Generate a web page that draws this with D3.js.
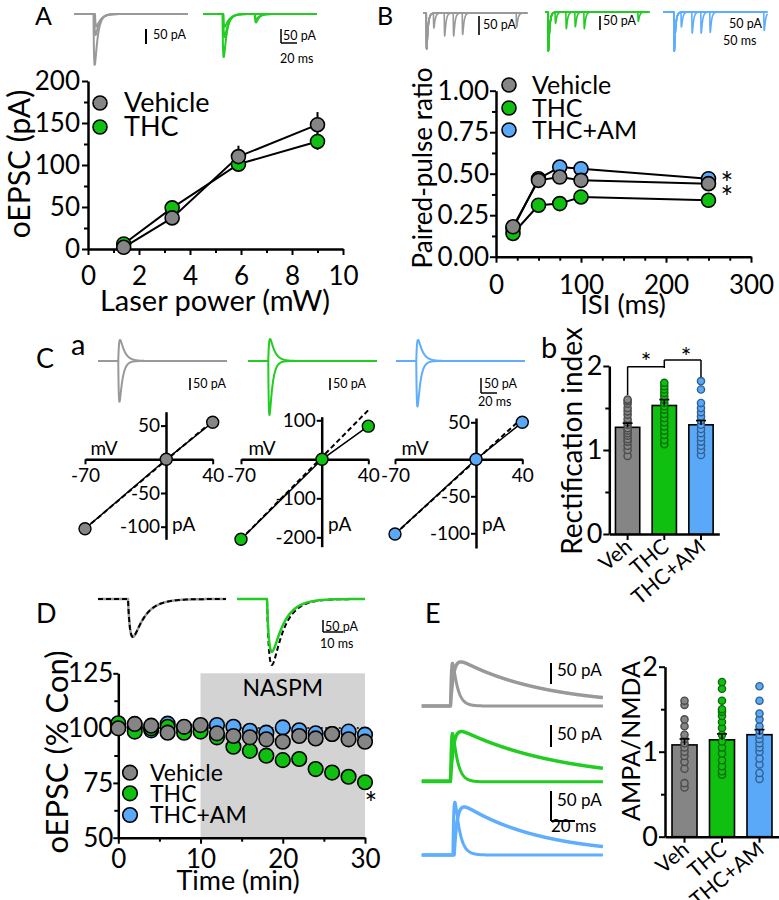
<!DOCTYPE html>
<html><head><meta charset="utf-8">
<script src="https://cdn.jsdelivr.net/npm/d3@7"></script>
<style>body{margin:0;background:#fff}svg{display:block}</style>
</head><body><svg id="c" width="779" height="900"></svg>
<script>
// ================= DATA =================
const groups = ["Vehicle", "THC", "THC+AM"];
const groupShort = ["Veh", "THC", "THC+AM"];

// Panel A: oEPSC vs laser power
const laserPower = [1.4, 3.3, 5.9, 9.0];
const laserVeh = [2, 37, 110, 148];
const laserVehErr = [2, 4, 13, 15];
const laserTHC = [6, 49, 101, 128];
const laserTHCErr = [2, 4, 6, 10];
const laserXTicks = [0, 2, 4, 6, 8, 10];
const laserYTicks = [0, 50, 100, 150, 200];

// Panel B: paired-pulse ratio
const isi = [20, 50, 75, 100, 250];
const pprVeh = [0.18, 0.46, 0.48, 0.46, 0.44];
const pprTHC = [0.14, 0.31, 0.32, 0.36, 0.34];
const pprAM = [0.17, 0.47, 0.54, 0.53, 0.47];
const isiTicks = [0, 100, 200, 300];
const pprTicks = [0, 0.25, 0.5, 0.75, 1.0];

// Panel Ca: I-V relations (mV, pA)
const ivMV = [-70, 0, 40];
const ivVeh = [-103, 0, 55];
const ivTHC = [-205, 0, 85];
const ivAM = [-101, 0, 50];
const ivLinearAt40 = [57, 126, 56];
const ivYTicksVeh = [50, -50, -100];
const ivYTicksTHC = [100, -100, -200];
const ivYTicksAM = [50, -50, -100];

// Panel Cb: rectification index
const rectMean = [1.27, 1.53, 1.30];
const rectErr = [0.05, 0.07, 0.05];
const rectVeh = [0.93, 1.0, 1.05, 1.1, 1.13, 1.17, 1.2, 1.23, 1.26, 1.3, 1.33, 1.37, 1.42, 1.46, 1.5, 1.55, 1.58, 1.6];
const rectTHC = [1.07, 1.12, 1.18, 1.23, 1.28, 1.33, 1.38, 1.43, 1.48, 1.52, 1.56, 1.6, 1.64, 1.68, 1.72, 1.76, 1.8];
const rectAM = [0.94, 1.0, 1.05, 1.1, 1.15, 1.2, 1.25, 1.3, 1.35, 1.4, 1.45, 1.5, 1.56, 1.72, 1.82];
const ratioTicks = [0, 1, 2];

// Panel D: NASPM time course (% control)
const timeMin = [0, 2, 4, 6, 8, 10, 12, 14, 16, 18, 20, 22, 24, 26, 28, 30];
const naspmVeh = [99.9, 101.9, 101.1, 97.9, 100.6, 101.4, 97.6, 96.4, 95.8, 94.9, 93.8, 96.4, 95.3, 97.3, 94.9, 93.8];
const naspmTHC = [102.2, 98.4, 99.9, 100.6, 97.9, 98.4, 95.8, 91.5, 89.6, 87.4, 85.4, 85.9, 81.3, 79.7, 77.8, 75.3];
const naspmAM = [100.5, 100.5, 99.0, 102.0, 100.3, 100.8, 101.4, 100.6, 98.8, 97.9, 100.3, 99.0, 97.6, 97.3, 98.4, 97.0];
const naspmWindow = [10, 30];
const timeTicks = [0, 10, 20, 30];
const naspmTicks = [50, 75, 100, 125];

// Panel E: AMPA/NMDA ratio
const anMean = [1.08, 1.14, 1.20];
const anErr = [0.07, 0.07, 0.06];
const anVeh = [0.58, 0.63, 0.8, 0.88, 0.95, 1.0, 1.05, 1.1, 1.15, 1.2, 1.3, 1.38, 1.55, 1.6];
const anTHC = [0.73, 0.77, 0.83, 0.9, 0.98, 1.05, 1.12, 1.2, 1.28, 1.35, 1.42, 1.47, 1.5, 1.6, 1.74, 1.82];
const anAM = [0.68, 0.75, 0.85, 0.92, 1.0, 1.05, 1.1, 1.15, 1.2, 1.25, 1.3, 1.38, 1.45, 1.6, 1.77];

// Example traces: sweeps -> events [onset ms, amplitude pA]
const trA_Veh = [[[26, -182]], [[27, -75]], [[28, -45]]];
const trA_THC = [[[26, -154], [69, -30]], [[27, -82], [69, -18]], [[27, -46]]];
const trB_Veh = [[[9, -97], [29, -40]], [[9, -97], [59, -62]], [[9, -97], [84, -62]], [[9, -97], [109, -58]], [[9, -97], [259, -38]]];
const trB_THC = [[[8, -105], [28, -30]], [[8, -105], [58, -45]], [[8, -105], [83, -40]], [[8, -105], [108, -45]], [[8, -105], [258, -25]]];
const trB_AM = [[[30, -105], [50, -40]], [[30, -105], [80, -57]], [[30, -105], [105, -57]], [[30, -105], [130, -55]], [[30, -105], [280, -50]]];
const trC_Veh = [[[27, 88]], [[27, -170]]];
const trC_THC = [[[27, 92]], [[27, -225]]];
const trC_AM = [[[27, 88]], [[27, -190]]];
const trD_Veh = [[[15, -158]], [[15, -158]]];   // before, during NASPM
const trD_THC = [[[15, -220]], [[15, -275]]];
const trE_Veh = [[[24, 102]], [[24, 105]]];     // AMPA (-70 mV), NMDA (+40 mV)
const trE_THC = [[[24, 113]], [[24, 115]]];
const trE_AM = [[[26, 88]], [[27, 80]]];

// ================= STYLE =================
const FONT = "Lato, 'Open Sans', 'DejaVu Sans', sans-serif";
const COL = {"Vehicle": "#858585", "THC": "#10c010", "THC+AM": "#5aa8f8"};
const TRACE = {"Vehicle": "#999999", "THC": "#22cc22", "THC+AM": "#5fadff"};
const hyphen = d => String(d);

const svg = d3.select("#c");
svg.append("rect").attr("width", 779).attr("height", 900).attr("fill", "#fff");

function text(x, y, s, size, opts = {}) {
  const t = svg.append("text").attr("x", x).attr("y", y).text(s)
    .attr("font-family", FONT).attr("font-size", size).attr("fill", "#000")
    .attr("text-anchor", opts.anchor || "start");
  if (opts.rotate !== undefined) t.attr("transform", `rotate(${opts.rotate},${x},${y})`);
  return t;
}
function styleAxis(g, fs) {
  g.select(".domain").attr("stroke", "#000").attr("stroke-width", 2.5);
  g.selectAll(".tick line").attr("stroke", "#000").attr("stroke-width", 2);
  g.selectAll(".tick text").attr("font-family", FONT).attr("font-size", fs).attr("fill", "#000");
  return g;
}
function axisG(gen, tx, ty, fs) {
  return styleAxis(svg.append("g").attr("transform", `translate(${tx},${ty})`).call(gen), fs);
}
function minorG(gen, tx, ty) {
  const g = svg.append("g").attr("transform", `translate(${tx},${ty})`).call(gen);
  g.select(".domain").remove();
  g.selectAll(".tick line").attr("stroke", "#000").attr("stroke-width", 2);
  return g;
}
function circle(x, y, r, fill, sw = 1.6) {
  svg.append("circle").attr("cx", x).attr("cy", y).attr("r", r)
    .attr("fill", fill).attr("stroke", "#000").attr("stroke-width", sw);
}

// EPSC-shaped waveform from events (drawing helper)
function waveform(events, span, tr, td) {
  const tp = (tr * td / (td - tr)) * Math.log(td / tr);
  const norm = Math.exp(-tp / td) - Math.exp(-tp / tr);
  const pts = [];
  for (let t = 0; t <= span; t += 0.25) {
    let v = 0;
    for (const [on, a] of events) {
      if (t > on) v += a * (Math.exp(-(t - on) / td) - Math.exp(-(t - on) / tr)) / norm;
    }
    pts.push([t, v]);
  }
  return pts;
}
function drawTrace(sweeps, L, color, width, dash) {
  const x = d3.scaleLinear([0, L.span], [L.x0, L.x0 + L.span * L.pxms]);
  const y = d3.scaleLinear([0, 1], [L.y0, L.y0 - L.pxpa]);
  const line = d3.line().x(d => x(d[0])).y(d => y(d[1]));
  sweeps.forEach((ev, i) => {
    const tr = Array.isArray(L.tr) ? L.tr[i] : L.tr;
    const td = Array.isArray(L.td) ? L.td[i] : L.td;
    const c = Array.isArray(color) ? color[i] : color;
    const w = Array.isArray(width) ? width[i] : width;
    const dsh = Array.isArray(dash) ? dash[i] : dash;
    const base = L.base ? L.base[i] : 0;
    const p = svg.append("path").datum(waveform(ev, L.span, tr, td).map(d => [d[0], d[1] + base]))
      .attr("d", line).attr("fill", "none").attr("stroke", c).attr("stroke-width", w)
      .attr("stroke-linejoin", "round");
    if (dsh) p.attr("stroke-dasharray", dsh);
  });
}
function vbar(x, y1, y2, w = 1.6) {
  svg.append("line").attr("x1", x).attr("x2", x).attr("y1", y1).attr("y2", y2).attr("stroke", "#000").attr("stroke-width", w);
}
function hbar(x1, x2, y, w = 1.6) {
  svg.append("line").attr("x1", x1).attr("x2", x2).attr("y1", y).attr("y2", y).attr("stroke", "#000").attr("stroke-width", w);
}

// ================= PANEL LETTERS =================
text(35, 25, "A", 25); text(377, 24.5, "B", 25);
text(36, 368, "C", 27); text(71, 355, "a", 29); text(541, 358, "b", 29);
text(36, 623, "D", 27); text(425, 623, "E", 27);

// ================= PANEL A =================
drawTrace(trA_Veh, {x0: 74, y0: 14, span: 152, pxms: 0.75, pxpa: 0.28, tr: 0.8, td: [4, 5, 6]}, TRACE.Vehicle, 2);
drawTrace(trA_THC, {x0: 203, y0: 14, span: 152, pxms: 0.75, pxpa: 0.28, tr: 0.8, td: [4, 5, 6]}, TRACE.THC, 2);
vbar(146, 29, 44, 2); text(153, 39, "50 pA", 12.5);
vbar(281, 29, 43, 1.5); hbar(281, 297, 43, 1.5);
text(283, 40, "50 pA", 12.5); text(280, 63, "20 ms", 12.5);

{
  const x = d3.scaleLinear([0, 10], [88, 343]);
  const y = d3.scaleLinear([0, 200], [249, 81]);
  minorG(d3.axisBottom(x).tickValues(d3.range(1, 10, 2)).tickSize(4).tickFormat(""), 0, 249);
  minorG(d3.axisLeft(y).tickValues(d3.range(25, 200, 50)).tickSize(4).tickFormat(""), 88, 0);
  axisG(d3.axisBottom(x).tickValues(laserXTicks).tickSize(6).tickSizeOuter(0).tickPadding(12).tickFormat(hyphen), 0, 249, 26);
  axisG(d3.axisLeft(y).tickValues(laserYTicks).tickSize(6).tickSizeOuter(0).tickPadding(2).tickFormat(hyphen), 88, 0, 26);
  text(215, 311, "Laser power (mW)", 29, {anchor: "middle"});
  text(30, 164, "oEPSC (pA)", 30, {anchor: "middle", rotate: -90});
  const series = [[laserTHC, laserTHCErr, "THC"], [laserVeh, laserVehErr, "Vehicle"]];
  const ln = d3.line().x((d, i) => x(laserPower[i])).y(d => y(d));
  series.forEach(([v, e]) => {
    svg.append("path").datum(v).attr("d", ln).attr("fill", "none").attr("stroke", "#000").attr("stroke-width", 2);
  });
  series.forEach(([v, e, g]) => {
    v.forEach((d, i) => vbar(x(laserPower[i]), y(d - e[i]), y(d + e[i]), 2));
  });
  series.forEach(([v, e, g]) => v.forEach((d, i) => circle(x(laserPower[i]), y(d), 7, COL[g])));
  circle(100, 103, 7, COL.Vehicle); circle(100, 127, 7, COL.THC);
  text(124, 112, "Vehicle", 27); text(124, 136, "THC", 27);
}

// ================= PANEL B =================
const LB = {span: 290, pxms: 0.36, pxpa: 0.37, tr: 0.6, td: 3.5};
drawTrace(trB_Veh, {...LB, x0: 423, y0: 13}, TRACE.Vehicle, 1.6);
drawTrace(trB_THC, {...LB, x0: 545, y0: 12}, TRACE.THC, 1.6);
drawTrace(trB_AM, {...LB, x0: 663, y0: 12}, TRACE["THC+AM"], 1.6);
vbar(479, 16, 35, 1.6); text(483, 29, "50 pA", 12.5);
vbar(600, 16, 30, 1.6); text(603, 25, "50 pA", 12.5);
text(729, 28, "50 pA", 12.5); text(723, 45, "50 ms", 12.5);

{
  const x = d3.scaleLinear([0, 300], [496, 751]);
  const y = d3.scaleLinear([0, 1], [256.7, 90.7]);
  minorG(d3.axisBottom(x).tickValues(d3.range(25, 300, 25).filter(v => v % 100)).tickSize(4).tickFormat(""), 0, 256.7);
  minorG(d3.axisLeft(y).tickValues(d3.range(0.125, 1, 0.25)).tickSize(4).tickFormat(""), 496, 0);
  axisG(d3.axisBottom(x).tickValues(isiTicks).tickSize(6).tickSizeOuter(0).tickPadding(13).tickFormat(hyphen), 0, 256.7, 26);
  axisG(d3.axisLeft(y).tickValues(pprTicks).tickSize(6).tickSizeOuter(0).tickPadding(1).tickFormat(d3.format(".2f")), 496, 0, 26);
  text(623, 314, "ISI (ms)", 27.5, {anchor: "middle"});
  text(432, 168, "Paired-pulse ratio", 26, {anchor: "middle", rotate: -90});
  const series = [[pprAM, "THC+AM"], [pprTHC, "THC"], [pprVeh, "Vehicle"]];
  const ln = d3.line().x((d, i) => x(isi[i])).y(d => y(d));
  series.forEach(([v]) => svg.append("path").datum(v).attr("d", ln).attr("fill", "none").attr("stroke", "#000").attr("stroke-width", 2));
  series.forEach(([v, g]) => v.forEach((d, i) => circle(x(isi[i]), y(d), 7, COL[g])));
  circle(509, 85, 7, COL.Vehicle); circle(509, 108, 7, COL.THC); circle(509, 130, 7, COL["THC+AM"]);
  text(532, 94, "Vehicle", 25); text(532, 117, "THC", 25); text(532, 139, "THC+AM", 25);
  text(727, 194, "*", 30, {anchor: "middle"}); text(727, 208, "*", 30, {anchor: "middle"});
}

// ================= PANEL C a =================
const LC = {span: 172, pxms: 0.75, pxpa: 0.24, tr: [1.2, 0.8], td: [6, 4]};
drawTrace(trC_Veh, {...LC, x0: 98, y0: 361}, TRACE.Vehicle, 2);
drawTrace(trC_THC, {...LC, x0: 248, y0: 361}, TRACE.THC, 2);
drawTrace(trC_AM, {...LC, x0: 396, y0: 361}, TRACE["THC+AM"], 2);
vbar(190, 378, 390, 1.6); text(193, 388, "50 pA", 12.5);
vbar(330, 378, 390, 1.6); text(333, 388, "50 pA", 12.5);
vbar(481, 378, 393, 1.5); hbar(481, 497, 393, 1.5);
text(484, 388, "50 pA", 12.5); text(478, 406, "20 ms", 12.5);

function ivPlot(vals, lin40, yTicks, xr, axisX, yTop, yBot, ppa, col, lab) {
  const y0 = 459.3;
  const x = d3.scaleLinear([-70, 40], xr);
  const y = d3.scaleLinear([(y0 - yBot) / ppa, (y0 - yTop) / ppa], [yBot, yTop]);
  axisG(d3.axisBottom(x).tickValues([-70, 40]).tickSize(5).tickSizeOuter(0).tickPadding(4).tickFormat(hyphen), 0, y0, 19);
  axisG(d3.axisLeft(y).tickValues(yTicks).tickSize(5).tickSizeOuter(0).tickPadding(1).tickFormat(hyphen), axisX, 0, 19);
  const ln = d3.line().x(d => x(d[0])).y(d => y(d[1]));
  svg.append("path").datum([[-70, vals[0]], [40, lin40]]).attr("d", ln).attr("fill", "none")
    .attr("stroke", "#000").attr("stroke-width", 2).attr("stroke-dasharray", "5,3");
  svg.append("path").datum(ivMV.map((m, i) => [m, vals[i]])).attr("d", ln).attr("fill", "none")
    .attr("stroke", "#000").attr("stroke-width", 1.5);
  ivMV.forEach((m, i) => circle(x(m), y(vals[i]), 6, col, 1.4));
  text(lab[0], 455, "mV", 19, {anchor: "middle"});
  text(lab[1], 531, "pA", 19);
}
ivPlot(ivVeh, ivLinearAt40[0], ivYTicksVeh, [85, 212.7], 166, 411.7, 539.3, 0.674, COL.Vehicle, [104, 172]);
ivPlot(ivTHC, ivLinearAt40[1], ivYTicksTHC, [241, 368.3], 321.7, 416.7, 546.7, 0.39, COL.THC, [262, 328]);
ivPlot(ivAM, ivLinearAt40[2], ivYTicksAM, [395, 522.3], 476, 418, 548, 0.74, COL["THC+AM"], [415, 482]);

// ================= BAR CHART helper =================
function barChart(o) {
  const x = d3.scaleBand().domain(groupShort).range(o.xr).paddingInner(o.pi).paddingOuter(o.po);
  const y = d3.scaleLinear([0, 2], o.yr);
  minorG(d3.axisLeft(y).tickValues([0.5, 1.5]).tickSize(4).tickFormat(""), o.xr[0], 0);
  axisG(d3.axisLeft(y).tickValues(ratioTicks).tickSize(6).tickSizeOuter(0).tickPadding(1).tickFormat(d3.format("d")), o.xr[0], 0, 27);
  axisG(d3.axisBottom(x).tickSize(6).tickSizeOuter(0).tickFormat(""), 0, o.yr[0], 20);
  groupShort.forEach((g, i) => {
    const c = x(g) + x.bandwidth() / 2;
    text(c + 6, o.yr[0] + 15, g, 21, {anchor: "end", rotate: -40});
  });
  o.means.forEach((m, i) => {
    const g = groupShort[i], col = COL[groups[i]];
    svg.append("rect").attr("x", x(g)).attr("y", y(m)).attr("width", x.bandwidth()).attr("height", y(0) - y(m))
      .attr("fill", col).attr("stroke", "#000").attr("stroke-width", 1.6);
  });
  o.points.forEach((arr, i) => {
    const g = groupShort[i], c = x(g) + x.bandwidth() / 2;
    const col = COL[groups[i]];
    arr.forEach(v => svg.append("circle").attr("cx", c).attr("cy", y(v)).attr("r", 3.6)
      .attr("fill", col).attr("stroke", d3.color(col).darker(1.6)).attr("stroke-width", 1.4));
  });
  o.means.forEach((m, i) => {
    const c = x(groupShort[i]) + x.bandwidth() / 2;
    vbar(c, y(m), y(m + o.errs[i]), 1.6);
    hbar(c - 5, c + 5, y(m + o.errs[i]), 1.6);
  });
  return {x, y};
}

// ================= PANEL C b =================
{
  const {x, y} = barChart({xr: [609.3, 719.3], pi: 0.338, po: 0.168, yr: [534, 366],
    means: rectMean, errs: rectErr, points: [rectVeh, rectTHC, rectAM]});
  text(582, 441, "Rectification index", 28, {anchor: "middle", rotate: -90});
  const cx = g => x(g) + x.bandwidth() / 2;
  // significance brackets
  vbar(cx("Veh"), 395, 366.7, 1.5); hbar(cx("Veh"), cx("THC"), 366.7, 1.5);
  vbar(cx("THC"), 360, 368, 1.5);
  hbar(cx("THC"), cx("THC+AM"), 360, 1.5); vbar(cx("THC+AM"), 360, 377, 1.5);
  text(646, 371, "*", 25, {anchor: "middle"});
  text(686, 366, "*", 25, {anchor: "middle"});
}

// ================= PANEL D =================
const LD = {span: 64, pxms: 2.0, pxpa: 0.24, tr: 1.2, td: 6};
drawTrace([trD_Veh[0]], {...LD, x0: 98, y0: 599}, TRACE.Vehicle, 2.5);
drawTrace([trD_Veh[1]], {...LD, x0: 98, y0: 599}, "#000", 2, "5,3");
drawTrace([trD_THC[1]], {...LD, x0: 237, y0: 599}, "#000", 2, "5,3");
drawTrace([trD_THC[0]], {...LD, x0: 237, y0: 599}, TRACE.THC, 2.5);
vbar(323, 620, 632, 1.5); hbar(323, 343, 632, 1.5);
text(325, 631, "50 pA", 12.5); text(320, 648, "10 ms", 12.5);

{
  const x = d3.scaleLinear([0, 30], [118.3, 365]);
  const y = d3.scaleLinear([50, 125], [837.7, 673.3]);
  svg.append("rect").attr("x", x(naspmWindow[0])).attr("y", y(125)).attr("width", x(naspmWindow[1]) - x(naspmWindow[0]))
    .attr("height", y(50) - y(125)).attr("fill", "#d3d3d3");
  text((x(naspmWindow[0]) + x(naspmWindow[1])) / 2, 696, "NASPM", 23, {anchor: "middle"});
  svg.append("line").attr("x1", x(0)).attr("x2", x(30)).attr("y1", y(100)).attr("y2", y(100))
    .attr("stroke", "#000").attr("stroke-width", 1.5).attr("stroke-dasharray", "2,2.5");
  minorG(d3.axisBottom(x).tickValues([5, 15, 25]).tickSize(4).tickFormat(""), 0, 837.7);
  minorG(d3.axisLeft(y).tickValues([62.5, 87.5, 112.5]).tickSize(4).tickFormat(""), 118.3, 0);
  axisG(d3.axisBottom(x).tickValues(timeTicks).tickSize(6).tickSizeOuter(0).tickPadding(6).tickFormat(hyphen), 0, 837.7, 26);
  axisG(d3.axisLeft(y).tickValues(naspmTicks).tickSize(5).tickSizeOuter(0).tickPadding(0).tickFormat(hyphen), 118.3, 0, 26);
  text(238, 890, "Time (min)", 27, {anchor: "middle"});
  text(68, 752, "oEPSC (% Con)", 31, {anchor: "middle", rotate: -90});
  const series = [[naspmAM, "THC+AM"], [naspmTHC, "THC"], [naspmVeh, "Vehicle"]];
  series.forEach(([v, g]) => v.forEach((d, i) => circle(x(timeMin[i]), y(d), 7.3, COL[g])));
  circle(130, 772.7, 7.3, COL.Vehicle); circle(130, 793.3, 7.3, COL.THC); circle(130, 815, 7.3, COL["THC+AM"]);
  text(150, 781, "Vehicle", 23); text(150, 802, "THC", 23); text(150, 823, "THC+AM", 23);
  text(371, 814, "*", 30, {anchor: "middle"});
}

// ================= PANEL E =================
const LE = {span: 151, pxms: 1.2, tr: [0.8, 2.5], td: [4, 70]};
drawTrace(trE_Veh, {...LE, x0: 421.7, y0: 706, pxpa: 0.42}, TRACE.Vehicle, [3, 3.5]);
drawTrace(trE_THC, {...LE, x0: 421.7, y0: 781, pxpa: 0.43, td: [4, 85], base: [-2, 0]}, TRACE.THC, [3, 3.5]);
drawTrace(trE_AM, {...LE, x0: 421.7, y0: 855, pxpa: 0.6, td: [4, 65]}, TRACE["THC+AM"], [3, 3.5]);
vbar(551, 663, 684, 2); text(557, 676, "50 pA", 17);
vbar(551, 725, 747, 2); text(557, 740, "50 pA", 17);
vbar(551, 791, 821, 2); hbar(551, 575, 821, 2);
text(557, 806, "50 pA", 17); text(551, 832, "20 ms", 17);

{
  barChart({xr: [665, 779], pi: 0.333, po: 0.187, yr: [836.7, 666.7],
    means: anMean, errs: anErr, points: [anVeh, anTHC, anAM]});
  text(640, 741, "AMPA/NMDA", 25, {anchor: "middle", rotate: -90});
}
</script></body></html>
